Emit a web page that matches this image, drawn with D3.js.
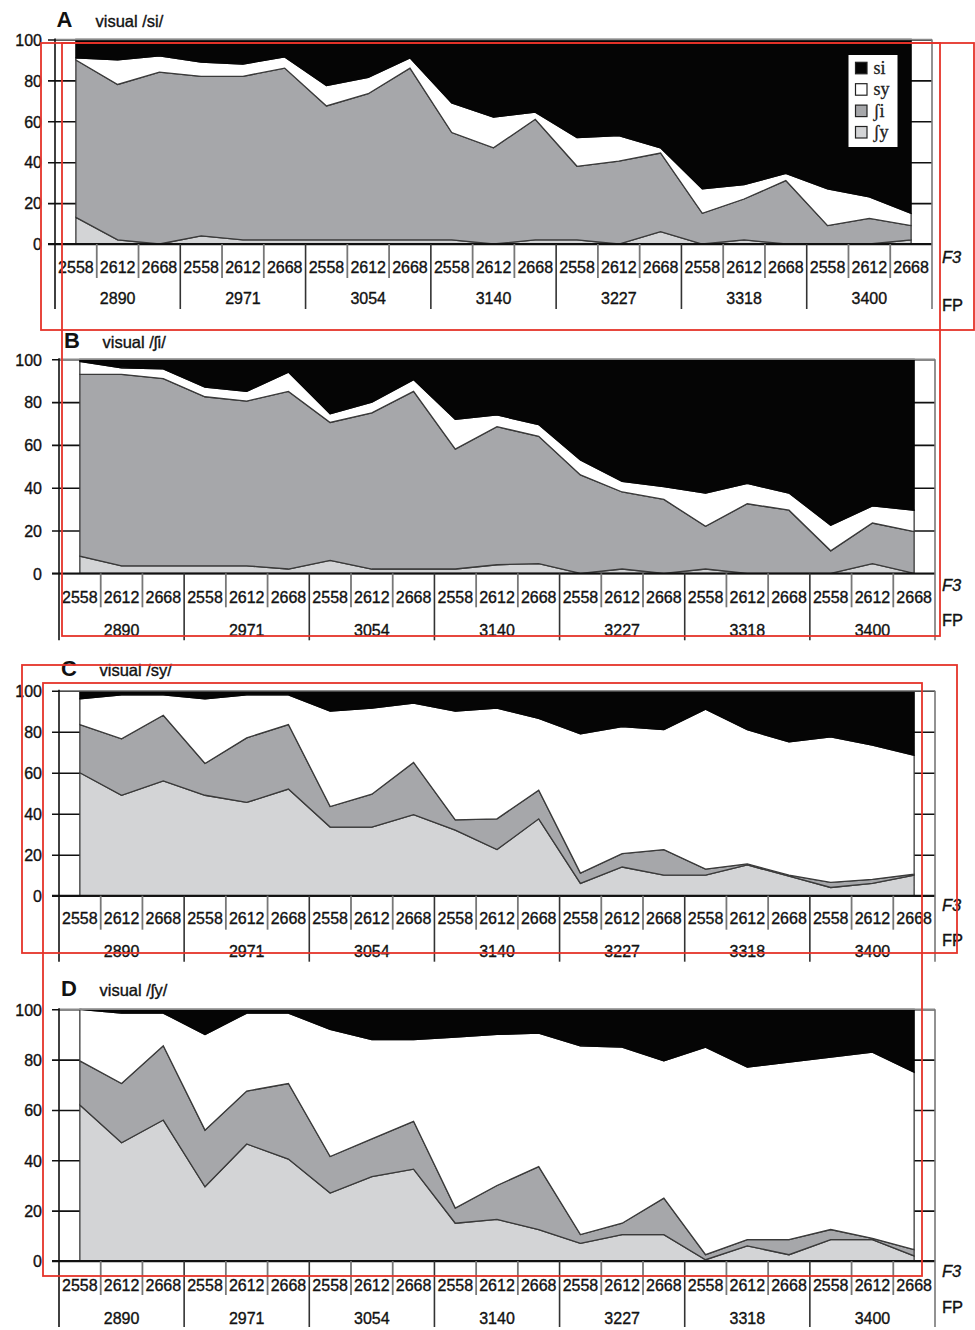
<!DOCTYPE html>
<html>
<head>
<meta charset="utf-8">
<script src="https://cdn.jsdelivr.net/npm/d3@7"></script>
<style>
  body { margin: 0; background: #ffffff; }
  svg { display: block; }
  .lbl { paint-order: stroke; stroke: #111; stroke-width: 0.35px; }
</style>
</head>
<body>
<svg id="fig" width="975" height="1330"></svg>
<script>
// Category tick labels: three F3 steps inside each FP group
const f3Values = ["2558", "2612", "2668"];
const fpValues = ["2890", "2971", "3054", "3140", "3227", "3318", "3400"];
const yTicks = [0, 20, 40, 60, 80, 100];

// Response categories, stacked bottom -> top
const seriesKeys = ["shy", "shi", "sy", "si"];
const legendKeys = ["si", "sy", "shi", "shy"];
const seriesLabels = { si: "si", sy: "sy", shi: "ʃi", shy: "ʃy" };
const seriesFill = { si: "#050505", sy: "#ffffff", shi: "#a6a7aa", shy: "#d3d4d6" };

const panelLetters = ["A", "B", "C", "D"];
const panelTitles = ["visual /si/", "visual /ʃi/", "visual /sy/", "visual /ʃy/"];

// Percent responses per stimulus (21 = 7 FP x 3 F3)
// Panel A: visual /si/
const A_shy = [13, 2, 0, 4, 2, 2, 2, 2, 2, 2, 0, 2, 2, 0, 6, 0, 2, 0, 0, 0, 2];
const A_shi = [77, 76, 84, 78, 80, 84, 65.5, 71.5, 84, 52.5, 47, 59, 36, 40.5, 38.5, 15, 20, 31, 9, 12.5, 7];
const A_sy  = [1, 12, 8, 7, 6, 5.5, 10, 8, 5, 14.5, 15, 3.5, 14, 12.5, 2.5, 12, 7, 3.5, 18, 10.5, 6];
const A_si  = [9, 10, 8, 11, 12, 8.5, 22.5, 18.5, 9, 31, 38, 35.5, 48, 47, 53, 73, 71, 65.5, 73, 77, 85];

// Panel B: visual /ʃi/
const B_shy = [8, 3.5, 3.5, 3.5, 3.5, 2, 6, 2, 2, 2, 4, 4.5, 0, 2, 0, 2, 0, 0, 0, 4.5, 0];
const B_shi = [85, 89.5, 87.5, 79, 77, 83, 64.5, 73, 83, 56, 64.5, 59.5, 46, 36, 34.5, 20, 32.5, 29.5, 10.5, 19, 19.5];
const B_sy  = [6, 3, 4.5, 4.5, 4.5, 9, 4, 5, 5.5, 14, 5.5, 5.5, 7, 5, 6, 15.5, 9.5, 8, 12, 8, 10];
const B_si  = [1, 4, 4.5, 13, 15, 6, 25.5, 20, 9.5, 28, 26, 30.5, 47, 57, 59.5, 62.5, 58, 62.5, 77.5, 68.5, 70.5];

// Panel C: visual /sy/
const C_shy = [60, 49, 56, 49, 45.5, 52, 33.5, 33.5, 39.5, 32, 22.5, 37.5, 6, 14, 10, 10, 15, 9.5, 4, 6, 10];
const C_shi = [23.5, 27.5, 32, 15.5, 31.5, 31.5, 10, 16, 25.5, 5, 15, 14, 5, 6.5, 12.5, 3, 0.5, 0.5, 2.5, 2, 0.5];
const C_sy  = [12.5, 21.5, 10, 31.5, 21, 14.5, 46.5, 42, 29, 53, 54, 35, 68, 62, 58.5, 78, 65.5, 65, 71, 65.5, 58];
const C_si  = [4, 2, 2, 4, 2, 2, 10, 8.5, 6, 10, 8.5, 13.5, 21, 17.5, 19, 9, 19, 25, 22.5, 26.5, 31.5];

// Panel D: visual /ʃy/
const D_shy = [62, 47, 56, 29.5, 46.5, 40.5, 27, 33.5, 36.5, 15, 16.5, 12.5, 7, 10.5, 10.5, 0.5, 6, 2.5, 8.5, 8.5, 2];
const D_shi = [17.5, 23.5, 29.5, 22.5, 21, 30, 14.5, 15, 19, 6, 13.5, 25, 3.5, 4.5, 14.5, 2, 2.5, 6, 4, 0.5, 2.5];
const D_sy  = [20.5, 28, 13, 38, 31, 28, 50.5, 39.5, 32.5, 68, 60, 53, 75, 70, 54.5, 82.5, 68.5, 70.5, 68.5, 74, 70.5];
const D_si  = [0, 1.5, 1.5, 10, 1.5, 1.5, 8, 12, 12, 11, 10, 9.5, 14.5, 15, 20.5, 15, 23, 21, 19, 17, 25];

const panelData = [
  { shy: A_shy, shi: A_shi, sy: A_sy, si: A_si },
  { shy: B_shy, shi: B_shi, sy: B_sy, si: B_si },
  { shy: C_shy, shi: C_shi, sy: C_sy, si: C_si },
  { shy: D_shy, shi: D_shi, sy: D_sy, si: D_si }
];

// Geometry of each panel
const layout = [
  { x0: 55, x1: 932, yTop: 39.5, yBot: 244, f3Y: 23, fpY: 54, f3T: 13, fpT: 61, minor: 34, major: 65,
    letter: [56.5, 26.5], title: [95.5, 26.5], legend: true },
  { x0: 59, x1: 935, yTop: 359.3, yBot: 573.3, f3Y: 24, fpY: 57, f3T: 12, fpT: 47, minor: 34, major: 67,
    letter: [64, 347.5], title: [102.5, 347.5], legend: false },
  { x0: 59, x1: 935, yTop: 690.7, yBot: 895.7, f3Y: 22.5, fpY: 56, f3T: 9.5, fpT: 44, minor: 34, major: 66,
    letter: [61, 676], title: [99.5, 676], legend: false },
  { x0: 59, x1: 935, yTop: 1009.3, yBot: 1261, f3Y: 24, fpY: 57, f3T: 10, fpT: 46, minor: 34, major: 66,
    letter: [61, 996], title: [99.5, 996], legend: false }
];

// Outlined callout frames laid over the figure
const calloutX0 = [41, 62, 22, 43];
const calloutY0 = [43, 43, 665, 683];
const calloutX1 = [974, 940, 957, 922];
const calloutY1 = [330, 636, 953, 1276];

const SANS = "'Liberation Sans', Arial, Helvetica, sans-serif";
const SERIF = "'Liberation Serif', 'DejaVu Serif', 'Times New Roman', serif";

const svg = d3.select("#fig");
svg.append("rect").attr("width", 975).attr("height", 1330).attr("fill", "#fff");

panelData.forEach((series, p) => {
  const L = layout[p];
  const g = svg.append("g");
  const n = series.shy.length;

  const x = d3.scaleBand().domain(d3.range(n)).range([L.x0, L.x1]).padding(0);
  const xg = d3.scaleBand().domain(fpValues).range([L.x0, L.x1]).padding(0);
  const y = d3.scaleLinear().domain([0, 100]).range([L.yBot, L.yTop]);
  const bw = x.bandwidth();

  // Horizontal gridlines with the y tick labels
  const yAxis = d3.axisLeft(y)
    .tickValues(yTicks)
    .tickFormat(d3.format("d"))
    .tickSizeInner(-(L.x1 - L.x0 + 7))
    .tickSizeOuter(0)
    .tickPadding(L.x0 - 49);
  const ya = g.append("g").attr("transform", `translate(${L.x0 - 7},0)`).call(yAxis);
  ya.select(".domain").remove();
  ya.selectAll(".tick line").attr("stroke", "#111").attr("stroke-width", 1.6);
  ya.selectAll(".tick text").attr("class", "lbl")
    .attr("fill", "#111").attr("font-family", SANS).attr("font-size", 16).attr("dy", "0.36em");

  // Stacked percentage areas
  const rows = d3.range(n).map(i => {
    const r = {};
    seriesKeys.forEach(k => { r[k] = series[k][i]; });
    return r;
  });
  const stacked = d3.stack().keys(seriesKeys)(rows);
  const area = d3.area()
    .x((d, i) => x(i) + bw / 2)
    .y0(d => y(d[0]))
    .y1(d => y(d[1]));
  g.append("g").selectAll("path").data(stacked).join("path")
    .attr("d", area)
    .attr("fill", d => seriesFill[d.key])
    .attr("stroke", d => d.key === "si" ? "#050505" : "#3a3a3a")
    .attr("stroke-width", 1.3)
    .attr("stroke-linejoin", "miter");

  // Baseline at 0
  g.append("line")
    .attr("x1", L.x0 - 7).attr("x2", L.x1).attr("y1", y(0)).attr("y2", y(0))
    .attr("stroke", "#111").attr("stroke-width", 1.8);

  // Frame: grey top and right, black left
  g.append("line").attr("x1", L.x0).attr("x2", L.x1).attr("y1", y(100)).attr("y2", y(100))
    .attr("stroke", "#8a8a8a").attr("stroke-width", 1.5);
  g.append("line").attr("x1", L.x1).attr("x2", L.x1).attr("y1", y(100)).attr("y2", L.yBot + L.major)
    .attr("stroke", "#777").attr("stroke-width", 1.6);
  g.append("line").attr("x1", L.x0).attr("x2", L.x0).attr("y1", y(100) - 1).attr("y2", L.yBot + L.major)
    .attr("stroke", "#111").attr("stroke-width", 1.6);

  // Band separators under the category axis
  const bounds = d3.range(1, n);
  g.append("g").selectAll("line").data(bounds).join("line")
    .attr("x1", j => x(j)).attr("x2", j => x(j))
    .attr("y1", L.yBot)
    .attr("y2", j => L.yBot + (j % 3 === 0 ? L.major : L.minor))
    .attr("stroke", j => j % 3 === 0 ? "#333" : "#777")
    .attr("stroke-width", j => j % 3 === 0 ? 1.6 : 1.8);

  // F3 labels
  const xAxis = d3.axisBottom(x).tickSize(0).tickFormat(i => f3Values[i % 3]);
  const xa = g.append("g").attr("transform", `translate(0,${L.yBot})`).call(xAxis);
  xa.select(".domain").remove();
  xa.selectAll(".tick text").attr("class", "lbl")
    .attr("y", L.f3Y).attr("dy", "0.36em")
    .attr("fill", "#111").attr("font-family", SANS).attr("font-size", 16);

  // FP group labels
  const gAxis = d3.axisBottom(xg).tickSize(0);
  const ga = g.append("g").attr("transform", `translate(0,${L.yBot})`).call(gAxis);
  ga.select(".domain").remove();
  ga.selectAll(".tick text").attr("class", "lbl")
    .attr("y", L.fpY).attr("dy", "0.36em")
    .attr("fill", "#111").attr("font-family", SANS).attr("font-size", 16);

  // Axis names on the right
  g.append("text").attr("class", "lbl").attr("x", 942).attr("y", L.yBot + L.f3T).attr("dy", "0.36em")
    .attr("font-family", SANS).attr("font-size", 16.5).attr("font-style", "italic")
    .attr("fill", "#111").text("F3");
  g.append("text").attr("class", "lbl").attr("x", 942).attr("y", L.yBot + L.fpT).attr("dy", "0.36em")
    .attr("font-family", SANS).attr("font-size", 16.5)
    .attr("fill", "#111").text("FP");

  // Panel letter and title
  g.append("text").attr("x", L.letter[0]).attr("y", L.letter[1])
    .attr("font-family", SANS).attr("font-weight", "bold").attr("font-size", 22)
    .attr("fill", "#111").text(panelLetters[p]);
  g.append("text").attr("class", "lbl").attr("x", L.title[0]).attr("y", L.title[1])
    .attr("font-family", SANS).attr("font-size", 16.5)
    .attr("fill", "#111").text(panelTitles[p]);

  // Legend
  if (L.legend) {
    const lg = g.append("g");
    lg.append("rect").attr("x", 848.5).attr("y", 55).attr("width", 49).attr("height", 92)
      .attr("fill", "#fff");
    legendKeys.forEach((k, i) => {
      const cy = 68.3 + i * 21.4;
      lg.append("rect").attr("x", 855.5).attr("y", cy - 6).attr("width", 11.5).attr("height", 11.5)
        .attr("fill", seriesFill[k]).attr("stroke", "#222").attr("stroke-width", 1.2);
      lg.append("text").attr("x", 873.5).attr("y", cy).attr("dy", "0.3em")
        .attr("font-family", SERIF).attr("font-size", 18).attr("fill", "#222")
        .attr("stroke", "#222").attr("stroke-width", 0.3)
        .text(seriesLabels[k]);
    });
  }
});

// Callout frames
svg.append("g").selectAll("rect").data(d3.range(calloutX0.length)).join("rect")
  .attr("x", i => calloutX0[i]).attr("y", i => calloutY0[i])
  .attr("width", i => calloutX1[i] - calloutX0[i])
  .attr("height", i => calloutY1[i] - calloutY0[i])
  .attr("fill", "none").attr("stroke", "#e5332a").attr("stroke-width", 1.8);
</script>
</body>
</html>
